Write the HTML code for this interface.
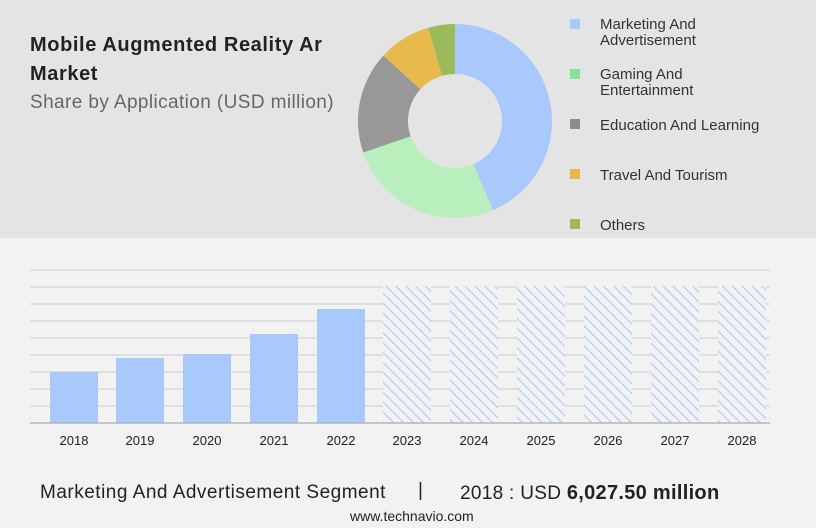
<!DOCTYPE html>
<html><head><meta charset="utf-8"><style>
body{margin:0;width:816px;height:528px;overflow:hidden;font-family:"Liberation Sans",sans-serif;background:#f2f2f3;position:relative}
.top{position:absolute;left:0;top:0;width:816px;height:238px;background:#e4e4e4}
.t{position:absolute;color:#222;white-space:nowrap}
</style></head><body>
<div class="top"></div>
<div class="t" style="left:30px;top:31px;font-size:20px;font-weight:bold;line-height:29px;letter-spacing:0.6px">Mobile Augmented Reality Ar<br>Market</div>
<div class="t" style="left:30px;top:92px;font-size:19px;color:#666;letter-spacing:0.4px">Share by Application (USD million)</div>
<svg width="816" height="528" style="position:absolute;left:0;top:0">
<g id="donut"></g>
<defs><pattern id="h" width="7" height="7" patternUnits="userSpaceOnUse" patternTransform="rotate(-45)"><rect width="7" height="7" fill="#f2f2f3"/><line x1="0" y1="0" x2="0" y2="7" stroke="#a9c8fb" stroke-width="2.2"/></pattern></defs>
<g stroke="#d4d4d6" stroke-width="1.3">
<line x1="30" y1="270" x2="770" y2="270"/><line x1="30" y1="287" x2="770" y2="287"/><line x1="30" y1="304" x2="770" y2="304"/><line x1="30" y1="321" x2="770" y2="321"/><line x1="30" y1="338" x2="770" y2="338"/><line x1="30" y1="355" x2="770" y2="355"/><line x1="30" y1="372" x2="770" y2="372"/><line x1="30" y1="389" x2="770" y2="389"/><line x1="30" y1="406" x2="770" y2="406"/>
</g>
<g fill="#a9c8fb">
<rect x="50" y="372" width="48" height="51"/><rect x="116" y="358" width="48" height="65"/><rect x="183" y="354" width="48" height="69"/><rect x="250" y="334" width="48" height="89"/><rect x="317" y="309" width="48" height="114"/>
</g>
<g fill="url(#h)">
<rect x="383" y="286" width="48" height="137"/><rect x="450" y="286" width="48" height="137"/><rect x="517" y="286" width="48" height="137"/><rect x="584" y="286" width="48" height="137"/><rect x="651" y="286" width="48" height="137"/><rect x="718" y="286" width="48" height="137"/>
</g>
<line x1="30" y1="423" x2="770" y2="423" stroke="#aaa" stroke-width="1.3"/>
<g font-size="13" fill="#222" text-anchor="middle" font-family="Liberation Sans">
<text x="74" y="445">2018</text><text x="140" y="445">2019</text><text x="207" y="445">2020</text><text x="274" y="445">2021</text><text x="341" y="445">2022</text><text x="407" y="445">2023</text><text x="474" y="445">2024</text><text x="541" y="445">2025</text><text x="608" y="445">2026</text><text x="675" y="445">2027</text><text x="742" y="445">2028</text>
</g>
<g font-size="15" fill="#333" font-family="Liberation Sans">
<rect x="570" y="19" width="10" height="10" fill="#a9c8fb"/><text x="600" y="29">Marketing And</text><text x="600" y="45">Advertisement</text>
<rect x="570" y="69" width="10" height="10" fill="#86e29b"/><text x="600" y="79">Gaming And</text><text x="600" y="95">Entertainment</text>
<rect x="570" y="119" width="10" height="10" fill="#8c8c8c"/><text x="600" y="130">Education And Learning</text>
<rect x="570" y="169" width="10" height="10" fill="#e8b94a"/><text x="600" y="180">Travel And Tourism</text>
<rect x="570" y="219" width="10" height="10" fill="#9aba5c"/><text x="600" y="230">Others</text>
</g>
</svg>
<div class="t" style="left:40px;top:482px;font-size:19px;color:#222;letter-spacing:0.5px">Marketing And Advertisement Segment</div>
<div class="t" style="left:418px;top:480px;font-size:19px">|</div>
<div class="t" style="left:460px;top:482px;font-size:19px;letter-spacing:0.3px">2018 : USD <b style="font-size:20px">6,027.50 million</b></div>
<div class="t" style="left:350px;top:508px;font-size:14px">www.technavio.com</div>
<script>
var cx=455,cy=121,R=97,r=47,g=document.getElementById('donut');
var segs=[[0,157,'#a9c8fb'],[157,251,'#b9efbc'],[251,312.5,'#989898'],[312.5,344,'#e8ba4e'],[344,360,'#9aba5c']];
function p(a,rr){a=a*Math.PI/180;return [cx+rr*Math.sin(a),cy-rr*Math.cos(a)];}
segs.forEach(function(s){var a=p(s[0],R),b=p(s[1],R),c=p(s[1],r),d=p(s[0],r),l=(s[1]-s[0])>180?1:0;
var e=document.createElementNS('http://www.w3.org/2000/svg','path');
e.setAttribute('d','M'+a+'A'+R+','+R+' 0 '+l+' 1 '+b+'L'+c+'A'+r+','+r+' 0 '+l+' 0 '+d+'Z');e.setAttribute('fill',s[2]);g.appendChild(e);});
</script>
</body></html>
